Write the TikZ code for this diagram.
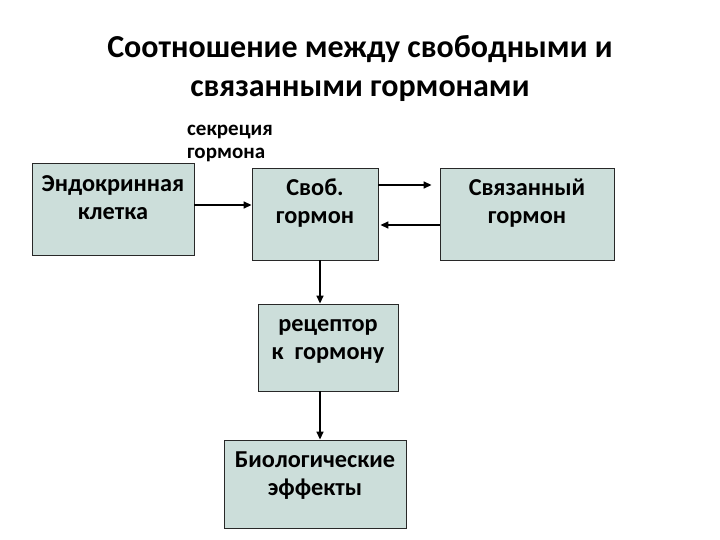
\documentclass[tikz,border=0pt]{standalone}
\usepackage{fontspec}
\setmainfont{Carlito}
\usetikzlibrary{arrows.meta,calc}
\definecolor{boxfill}{RGB}{204,222,218}
\definecolor{boxline}{RGB}{40,40,40}
\tikzset{
  box/.style={draw=boxline,fill=boxfill,line width=0.9pt,inner sep=0pt},
  boxtext/.style={anchor=base,align=center,font=\bfseries\fontsize{24.3}{28.5}\selectfont,inner sep=0pt},
  arr/.style={line width=1.5pt,-{Triangle[length=8pt,width=7pt]}},
}
\begin{document}
\begin{tikzpicture}[x=1pt,y=-1pt]
\useasboundingbox (0,0) rectangle (720,540);
\node[align=center,font=\bfseries\fontsize{32}{39}\selectfont,inner sep=0pt,anchor=base] (title) at (360,97) {Соотношение между свободными и\\связанными гормонами};
\node[align=left,font=\bfseries\fontsize{21}{23}\selectfont,inner sep=0pt,anchor=base west] (secr) at (187,159) {секреция\\гормона};
\node[box,minimum width=162,minimum height=92] (endo) at (113,209) {};
\node[box,minimum width=126,minimum height=92] (svob) at (315,214) {};
\node[box,minimum width=174,minimum height=92] (svyaz) at (527,214) {};
\node[box,minimum width=140,minimum height=87] (rec) at (328,347.5) {};
\node[box,minimum width=182,minimum height=88] (bio) at (315,484) {};
\node[boxtext] (endot) at ($(endo.north)+(0,57)$) {Эндокринная\\клетка};
\node[boxtext] (svobt) at ($(svob.north)+(0,56)$) {Своб.\\гормон};
\node[boxtext] (svyazt) at ($(svyaz.north)+(0,56)$) {Связанный\\гормон};
\node[boxtext] (rect) at ($(rec.north)+(0,56)$) {рецептор\\к~ гормону};
\node[boxtext] (biot) at ($(bio.north)+(0,56)$) {Биологические\\эффекты};
\coordinate (ax) at (320,0);
\coordinate (ay1) at (0,205);
\coordinate (ay2) at (0,185);
\coordinate (ay3) at (0,225);
\draw[arr] (endo.east |- ay1) -- (svob.west |- ay1);
\draw[arr,shorten >=8pt] (svob.east |- ay2) -- (svyaz.west |- ay2);
\draw[arr,shorten >=2pt] (svyaz.west |- ay3) -- (svob.east |- ay3);
\draw[arr] (svob.south -| ax) -- (rec.north -| ax);
\draw[arr] (rec.south -| ax) -- (bio.north -| ax);
\end{tikzpicture}
\end{document}
